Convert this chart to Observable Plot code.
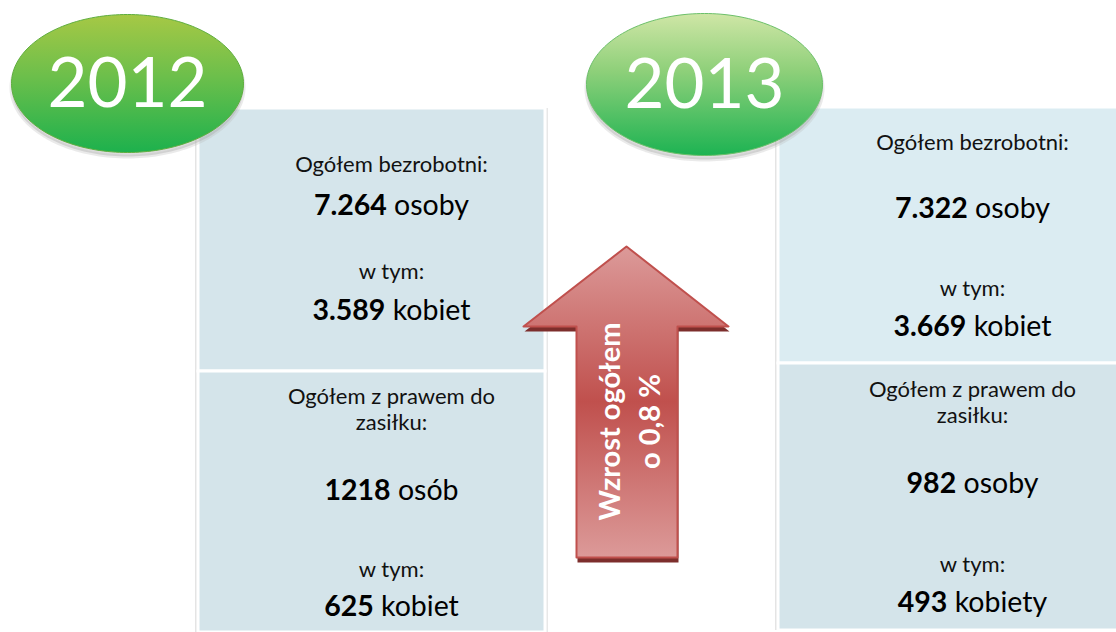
<!DOCTYPE html>
<html>
<head>
<meta charset="utf-8">
<script src="https://cdn.jsdelivr.net/npm/d3@7"></script>
<script src="https://cdn.jsdelivr.net/npm/@observablehq/plot@0.6"></script>
<style>
  html, body { margin: 0; padding: 0; background: #ffffff; }
  #chart svg { display: block; }
</style>
</head>
<body>
<div id="chart"></div>
<script>
// ---------- data ----------
const years = ["2012", "2013"];
const totalLabel = ["Ogółem bezrobotni:", "Ogółem bezrobotni:"];
const totalValues = ["7.264", "7.322"];
const totalUnits = ["osoby", "osoby"];
const womenLabel = ["w tym:", "w tym:"];
const womenValues = ["3.589", "3.669"];
const womenUnits = ["kobiet", "kobiet"];
const benefitLabel = ["Ogółem z prawem do\nzasiłku:", "Ogółem z prawem do\nzasiłku:"];
const benefitValues = ["1218", "982"];
const benefitUnits = ["osób", "osoby"];
const benefitWomenLabel = ["w tym:", "w tym:"];
const benefitWomenValues = ["625", "493"];
const benefitWomenUnits = ["kobiet", "kobiety"];
const changeText = "Wzrost ogółem\no 0,8 %";

// ---------- layout (positions / sizes, separate from data) ----------
const W = 1116, H = 632;
const FONT = "Lato, 'Open Sans', sans-serif";
const panelLayout = [
  {x1: 198, x2: 545, yTop: 108, yMid: 371, yBot: 632, cx: 391,
   yTotalLabel: 163, yTotal: 205, yWomenLabel: 270, yWomen: 310,
   yBenefitLabel: 408, yBenefit: 490, yBWLabel: 568, yBW: 606,
   topFill: "#d5e5eb", botFill: "#d4e4ea"},
  {x1: 778, x2: 1120, yTop: 107, yMid: 363, yBot: 630, cx: 972,
   yTotalLabel: 141, yTotal: 208, yWomenLabel: 287, yWomen: 326,
   yBenefitLabel: 401, yBenefit: 483, yBWLabel: 563, yBW: 602,
   topFill: "#dbecf2", botFill: "#d4e4ea"}
];
const ellipseLayout = [
  {cx: 127, cy: 83, rx: 116, ry: 69},
  {cx: 704, cy: 84, rx: 118, ry: 71}
];
const ellipseFills = ["url(#g2012)", "url(#g2013)"];
const arrowLayout = {tipX: 626, tipY: 246, headY: 326, headL: 523, headR: 728,
  shaftL: 576, shaftR: 677, bottom: 557, textY: 421};

const labelSize = 22, valueSize = 28.5, yearSize = 69, arrowTextSize = 29;

// ---------- measurement for mixed bold/regular lines ----------
const ctx = document.createElement("canvas").getContext("2d");
function tw(text, weight, size) {
  ctx.font = `${weight} ${size}px Lato`;
  return ctx.measureText(text).width;
}

// ---------- build mark tables ----------
const panels = [];
const labels = [];
const nums = [];
const units = [];
years.forEach((yr, i) => {
  const L = panelLayout[i];
  panels.push({x1: L.x1, x2: L.x2, y1: L.yTop, y2: L.yMid, fill: L.topFill});
  panels.push({x1: L.x1, x2: L.x2, y1: L.yMid, y2: L.yBot, fill: L.botFill});
  labels.push({x: L.cx, y: L.yTotalLabel, t: totalLabel[i]});
  labels.push({x: L.cx, y: L.yWomenLabel, t: womenLabel[i]});
  labels.push({x: L.cx, y: L.yBenefitLabel, t: benefitLabel[i]});
  labels.push({x: L.cx, y: L.yBWLabel, t: benefitWomenLabel[i]});
  const rows = [
    [totalValues[i], totalUnits[i], L.yTotal],
    [womenValues[i], womenUnits[i], L.yWomen],
    [benefitValues[i], benefitUnits[i], L.yBenefit],
    [benefitWomenValues[i], benefitWomenUnits[i], L.yBW]
  ];
  rows.forEach(([n, u, y]) => {
    const wn = tw(n, "bold", valueSize), ws = tw(" ", "normal", valueSize), wu = tw(u, "normal", valueSize);
    const start = L.cx - (wn + ws + wu) / 2;
    nums.push({x: start + wn, y, t: n});
    units.push({x: start + wn + ws, y, t: u});
  });
});

// ellipse outlines (shape geometry from layout)
function ellipsePoints(e, dy) {
  const pts = [];
  for (let j = 0; j < 180; j++) {
    const a = (j / 180) * 2 * Math.PI;
    pts.push({x: e.cx + e.rx * Math.cos(a), y: e.cy + dy + e.ry * Math.sin(a)});
  }
  return pts;
}
const ellipseMain = [ellipsePoints(ellipseLayout[0], 0), ellipsePoints(ellipseLayout[1], 0)];
const ellipseShadow = [ellipsePoints(ellipseLayout[0], 4), ellipsePoints(ellipseLayout[1], 4)];
const yearLabels = years.map((y, i) => ({x: ellipseLayout[i].cx, y: ellipseLayout[i].cy + 1, t: y}));

// arrow outline
const A = arrowLayout;
const arrowPts = [
  [A.tipX, A.tipY], [A.headR, A.headY], [A.shaftR, A.headY], [A.shaftR, A.bottom],
  [A.shaftL, A.bottom], [A.shaftL, A.headY], [A.headL, A.headY]
].map(([x, y]) => ({x, y}));
const arrowShadow = arrowPts.map(p => ({x: p.x + 1, y: p.y + 5}));

const plot = Plot.plot({
  width: W, height: H, margin: 0,
  x: {domain: [0, W], range: [0, W], axis: null},
  y: {domain: [0, H], range: [0, H], axis: null},
  style: {fontFamily: FONT, background: "#ffffff", overflow: "visible"},
  marks: [
    // panel side shadows
    Plot.rect(panelLayout, {x1: d => d.x1 - 3, x2: d => d.x1, y1: "yTop", y2: "yBot", fill: "#e4e4e4"}),
    Plot.rect(panelLayout.slice(0, 1), {x1: d => d.x2, x2: d => d.x2 + 3, y1: "yTop", y2: "yBot", fill: "#e8e8e8"}),
    // panels
    Plot.rect(panels, {x1: "x1", x2: "x2", y1: "y1", y2: "y2", fill: d => d.fill, stroke: "#ffffff", strokeWidth: 3}),
    // texts
    Plot.text(labels, {x: "x", y: "y", text: "t", fontSize: labelSize, fill: "#111111", lineHeight: 1.18}),
    Plot.text(nums, {x: "x", y: "y", text: "t", fontSize: valueSize, fontWeight: "bold", fill: "#000000", textAnchor: "end"}),
    Plot.text(units, {x: "x", y: "y", text: "t", fontSize: valueSize, fill: "#000000", textAnchor: "start"}),
    // arrow
    Plot.line(arrowShadow, {x: "x", y: "y", curve: "linear-closed", fill: "#7d2e2c", stroke: "none"}),
    Plot.line(arrowPts, {x: "x", y: "y", curve: "linear-closed", fill: "url(#gArrow)", stroke: "#c0504d", strokeWidth: 2}),
    Plot.text([changeText], {x: A.tipX + 1, y: A.textY, text: d => d, rotate: -90, fontSize: arrowTextSize, fontWeight: "bold", fill: "#ffffff", lineHeight: 1.38}),
    // ellipses
    Plot.line(ellipseShadow[0], {x: "x", y: "y", curve: "linear-closed", fill: "#9a9a9a", fillOpacity: 0.35, stroke: "#bbbbbb", strokeOpacity: 0.3, strokeWidth: 4}),
    Plot.line(ellipseShadow[1], {x: "x", y: "y", curve: "linear-closed", fill: "#9a9a9a", fillOpacity: 0.35, stroke: "#bbbbbb", strokeOpacity: 0.3, strokeWidth: 4}),
    Plot.line(ellipseMain[0], {x: "x", y: "y", curve: "linear-closed", fill: ellipseFills[0], stroke: "#5fae3f", strokeWidth: 1}),
    Plot.line(ellipseMain[1], {x: "x", y: "y", curve: "linear-closed", fill: ellipseFills[1], stroke: "#6cc06a", strokeWidth: 1}),
    Plot.text(yearLabels, {x: "x", y: "y", text: "t", fontSize: yearSize, fill: "#ffffff"})
  ]
});

// gradients
const defs = d3.select(plot).insert("defs", ":first-child");
function vgrad(id, stops) {
  const g = defs.append("linearGradient").attr("id", id).attr("x1", 0).attr("y1", 0).attr("x2", 0).attr("y2", 1);
  stops.forEach(([o, c]) => g.append("stop").attr("offset", o).attr("stop-color", c));
}
vgrad("g2012", [[0, "#a6c845"], [0.45, "#6cbf4b"], [1, "#1db14d"]]);
vgrad("g2013", [[0, "#cfe6a6"], [0.4, "#8fd07a"], [1, "#1db352"]]);
vgrad("gArrow", [[0, "#dc9a99"], [0.5, "#c0504d"], [1, "#dc9a99"]]);

document.getElementById("chart").appendChild(plot);
</script>
</body>
</html>
